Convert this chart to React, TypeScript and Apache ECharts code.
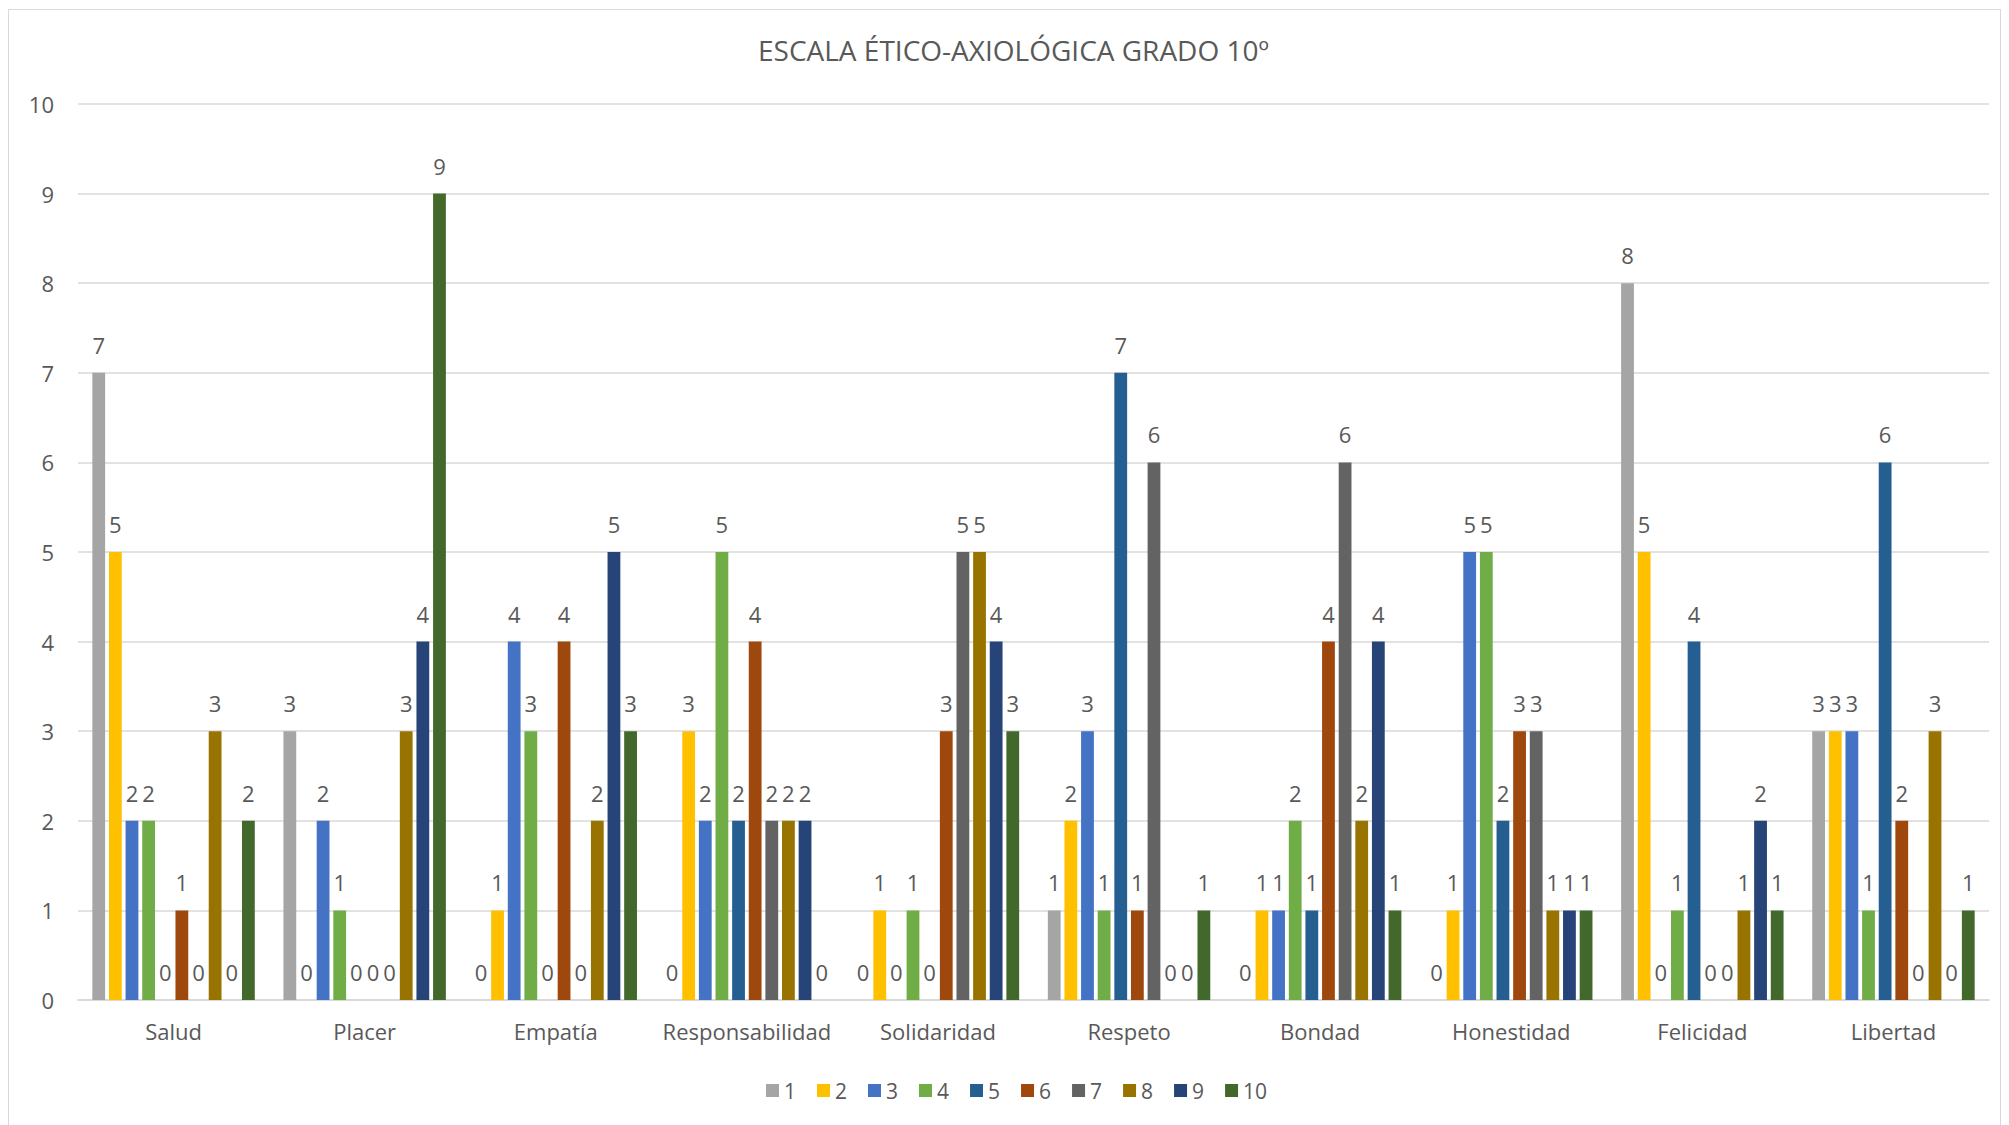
import React, { useEffect, useRef } from "react";
import * as echarts from "echarts";

const categories = ["Salud", "Placer", "Empatía", "Responsabilidad", "Solidaridad", "Respeto", "Bondad", "Honestidad", "Felicidad", "Libertad"];
const seriesNames = ["1", "2", "3", "4", "5", "6", "7", "8", "9", "10"];
const colors = ["#A5A5A5", "#FFC000", "#4472C4", "#70AD47", "#255E91", "#9E480E", "#636363", "#997300", "#264478", "#43682B"];
// one array per rating series, one value per category
const s1 = [7, 3, 0, 0, 0, 1, 0, 0, 8, 3];
const s2 = [5, 0, 1, 3, 1, 2, 1, 1, 5, 3];
const s3 = [2, 2, 4, 2, 0, 3, 1, 5, 0, 3];
const s4 = [2, 1, 3, 5, 1, 1, 2, 5, 1, 1];
const s5 = [0, 0, 0, 2, 0, 7, 1, 2, 4, 6];
const s6 = [1, 0, 4, 4, 3, 1, 4, 3, 0, 2];
const s7 = [0, 0, 0, 2, 5, 6, 6, 3, 0, 0];
const s8 = [3, 3, 2, 2, 5, 0, 2, 1, 1, 3];
const s9 = [0, 4, 5, 2, 4, 0, 4, 1, 2, 0];
const s10 = [2, 9, 3, 0, 3, 1, 1, 1, 1, 1];
const seriesValues = [s1, s2, s3, s4, s5, s6, s7, s8, s9, s10];
const yTicks = { min: 0, max: 10, interval: 1 };
const title = "ESCALA ÉTICO-AXIOLÓGICA GRADO 10º";

const FONT = "Open Sans";
const TXT = "#595959";

export default function App() {
  const ref = useRef<HTMLDivElement>(null);
  useEffect(() => {
    if (!ref.current) return;
    const chart = echarts.init(ref.current, undefined, { renderer: "svg" });
    chart.setOption({
      animation: false,
      backgroundColor: "#ffffff",
      color: colors,
      title: {
        text: title,
        left: 744,
        top: 21,
        textStyle: { fontFamily: FONT, fontSize: 28, fontWeight: "normal", color: TXT },
      },
      legend: {
        data: seriesNames,
        bottom: 24,
        left: 757,
        padding: 0,
        icon: "rect",
        itemWidth: 13,
        itemHeight: 13,
        itemGap: 21,
        textStyle: { fontFamily: FONT, fontSize: 21, color: TXT },
      },
      grid: { left: 69, right: 11, top: 94, bottom: 125, containLabel: false },
      xAxis: {
        type: "category",
        data: categories,
        axisLine: { show: true, lineStyle: { color: "#D9D9D9", width: 2 } },
        axisTick: { show: false },
        axisLabel: { fontFamily: FONT, fontSize: 22, color: TXT, margin: 20, interval: 0 },
      },
      yAxis: {
        type: "value",
        min: yTicks.min,
        max: yTicks.max,
        interval: yTicks.interval,
        axisLine: { show: false },
        axisTick: { show: false },
        splitLine: { lineStyle: { color: "#D9D9D9", width: 1.5 } },
        axisLabel: { fontFamily: FONT, fontSize: 22, color: TXT, margin: 24 },
      },
      series: seriesNames.map((name, i) => ({
        name,
        type: "bar",
        data: seriesValues[i],
        barGap: "30%",
        barCategoryGap: "15%",
        itemStyle: { color: colors[i] },
        label: {
          show: true,
          position: "top",
          distance: 17,
          fontFamily: FONT,
          fontSize: 22,
          color: TXT,
        },
      })),
    });
    return () => chart.dispose();
  }, []);
  return (
    <div
      ref={ref}
      style={{ width: 1993, height: 1117, border: "1.5px solid #D9D9D9", boxSizing: "border-box", marginTop: 1 }}
    />
  );
}
